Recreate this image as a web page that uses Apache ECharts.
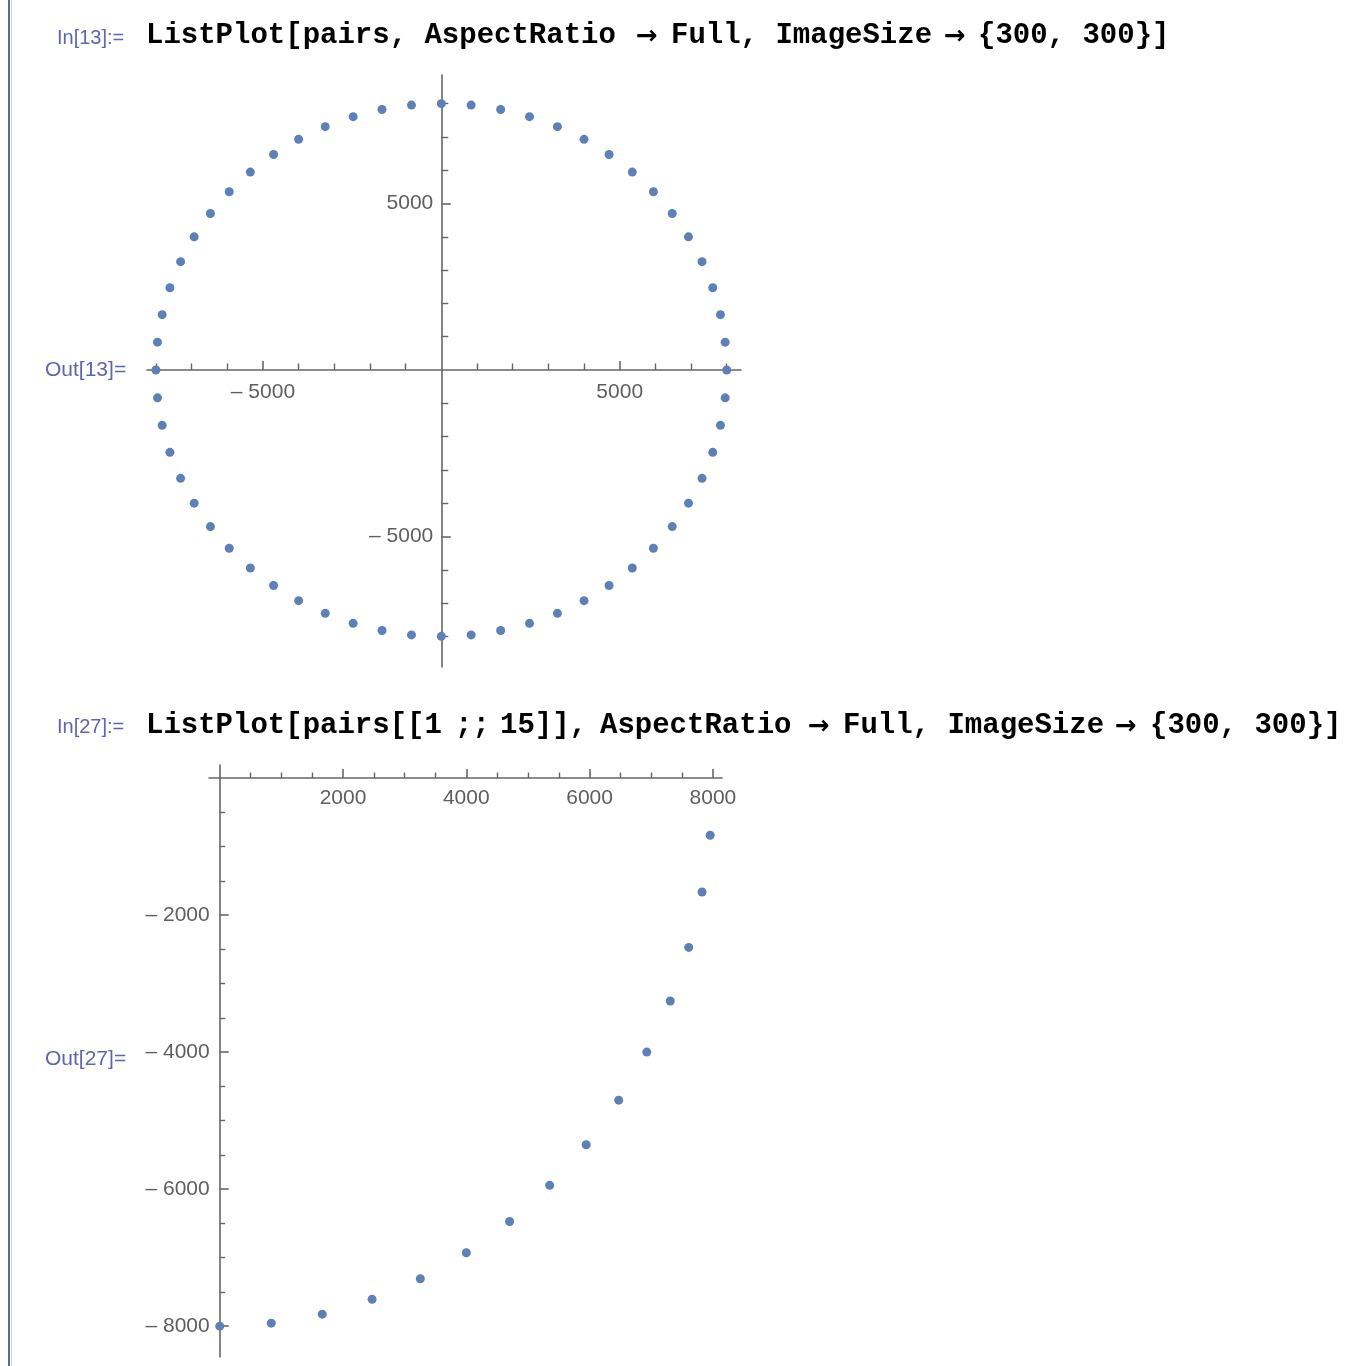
<!DOCTYPE html>
<html><head><meta charset="utf-8">
<script src="https://cdn.jsdelivr.net/npm/echarts@6/dist/echarts.min.js"></script>
<style>html,body{margin:0;padding:0;background:#fff;} #c{width:1345px;height:1366px;}</style>
</head><body><div id="c"></div>
<script>
// ---- data ----
const circleX = [7956,7825,7608,7308,6928,6472,5945,5353,4702,4000,3254,2472,1663,836,0,
  -836,-1663,-2472,-3254,-4000,-4702,-5353,-5945,-6472,-6928,-7308,-7608,-7825,-7956,-8000,
  -7956,-7825,-7608,-7308,-6928,-6472,-5945,-5353,-4702,-4000,-3254,-2472,-1663,-836,0,
  836,1663,2472,3254,4000,4702,5353,5945,6472,6928,7308,7608,7825,7956,8000];
const circleY = [-836,-1663,-2472,-3254,-4000,-4702,-5353,-5945,-6472,-6928,-7308,-7608,-7825,-7956,-8000,
  -7956,-7825,-7608,-7308,-6928,-6472,-5945,-5353,-4702,-4000,-3254,-2472,-1663,-836,0,
  836,1663,2472,3254,4000,4702,5353,5945,6472,6928,7308,7608,7825,7956,8000,
  7956,7825,7608,7308,6928,6472,5945,5353,4702,4000,3254,2472,1663,836,0];
const arcX = [7956,7825,7608,7308,6928,6472,5945,5353,4702,4000,3254,2472,1663,836,0];
const arcY = [-836,-1663,-2472,-3254,-4000,-4702,-5353,-5945,-6472,-6928,-7308,-7608,-7825,-7956,-8000];

const topMajor = [-5000, 5000];
const topMinor = [-8000,-7000,-6000,-4000,-3000,-2000,-1000,1000,2000,3000,4000,6000,7000,8000];
const botXMajor = [2000, 4000, 6000, 8000];
const botXMinor = [500,1000,1500,2500,3000,3500,4500,5000,5500,6500,7000,7500];
const botYMajor = [-2000, -4000, -6000, -8000];
const botYMinor = [-500,-1000,-1500,-2500,-3000,-3500,-4500,-5000,-5500,-6500,-7000,-7500];

const cellLabels = ['In[13]:=', 'Out[13]=', 'In[27]:=', 'Out[27]='];

// ---- styles ----
const AX = '#666666';
const LBL = {color: '#5f5f5f', fontSize: 21, fontFamily: 'Liberation Sans'};
const fmt = v => v < 0 ? '\u2013 ' + (-v) : String(v);
const CELL = '#5f66ad';
const CODE = 'bold 29px "Liberation Mono"';
const ARROW = 'bold 26px "DejaVu Sans"';

// axes crossing at zero: placed with an offset from the grid edge
function axis(dim, grid, min, max, major, minor, offset, margin, majLen, minLen) {
  const pos = dim === 'x' ? 'bottom' : 'left';
  const main = {
    type: 'value', gridIndex: grid, min, max, position: pos, offset,
    axisLine: {show: true, onZero: false, lineStyle: {color: AX, width: 1.6}},
    axisTick: {show: true, inside: true, length: majLen, customValues: major, lineStyle: {color: AX, width: 1.6}},
    axisLabel: Object.assign({show: true, margin, customValues: major, formatter: fmt,
      padding: dim === 'y' ? [3, 0, 0, 0] : 0}, LBL),
    splitLine: {show: false}
  };
  const sub = {
    type: 'value', gridIndex: grid, min, max, position: pos, offset,
    axisLine: {show: false, onZero: false},
    axisTick: {show: true, inside: true, length: minLen, customValues: minor, lineStyle: {color: AX, width: 1.4}},
    axisLabel: {show: false},
    splitLine: {show: false}
  };
  return [main, sub];
}

const xAxes = [].concat(
  axis('x', 0, -8250, 8400, topMajor, topMinor, -297, 12, 9, 6.5),
  axis('x', 1, -174, 8148, botXMajor, botXMinor, -579, 10, 9, 5.5)
);
const yAxes = [].concat(
  axis('y', 0, -8920, 8860, topMajor, topMinor, -294.3, 8, 9.5, 7),
  axis('y', 1, -8450, 190, botYMajor, botYMinor, -10.7, 10, 9, 5.5)
);

function txt(s, x, y, font, fill) {
  return {type: 'text', x, y, silent: true,
    style: {text: s, font, fill, verticalAlign: 'middle', align: 'left'}};
}

const chart = echarts.init(document.getElementById('c'), null, {renderer: 'canvas'});
chart.setOption({
  animation: false,
  backgroundColor: '#fff',
  grid: [
    {left: 147, top: 75, width: 594, height: 592, containLabel: false, outerBoundsMode: 'none'},
    {left: 209, top: 765, width: 513, height: 592, containLabel: false, outerBoundsMode: 'none'}
  ],
  xAxis: xAxes,
  yAxis: yAxes,
  series: [
    {type: 'scatter', xAxisIndex: 0, yAxisIndex: 0, symbolSize: 9, itemStyle: {color: '#5E81B5', opacity: 1},
     data: circleX.map((x, i) => [x, circleY[i]]), clip: false},
    {type: 'scatter', xAxisIndex: 2, yAxisIndex: 2, symbolSize: 9, itemStyle: {color: '#5E81B5', opacity: 1},
     data: arcX.map((x, i) => [x, arcY[i]]), clip: false}
  ],
  graphic: [
    {type: 'rect', shape: {x: 8, y: 0, width: 2, height: 1366}, style: {fill: '#557080'}, silent: true},
    {type: 'rect', shape: {x: 11, y: 0, width: 1, height: 1366}, style: {fill: '#d0d0d0'}, silent: true},
    txt(cellLabels[0], 57, 38, '20px "Liberation Sans"', CELL),
    txt(cellLabels[1], 45, 370, '21px "Liberation Sans"', CELL),
    txt(cellLabels[2], 57, 727, '20px "Liberation Sans"', CELL),
    txt(cellLabels[3], 45, 1059, '21px "Liberation Sans"', CELL),
    txt('ListPlot[pairs, AspectRatio', 146, 36, CODE, '#000'),
    txt('\u2192', 636, 37, ARROW, '#000'),
    txt('Full, ImageSize', 671, 36, CODE, '#000'),
    txt('\u2192', 944, 37, ARROW, '#000'),
    txt('{300, 300}]', 978, 36, CODE, '#000'),
    txt('ListPlot[pairs[[1', 146, 726, CODE, '#000'),
    txt(';;', 455, 726, CODE, '#000'),
    txt('15]],', 500, 726, CODE, '#000'),
    txt('AspectRatio', 600, 726, CODE, '#000'),
    txt('\u2192', 808, 727, ARROW, '#000'),
    txt('Full, ImageSize', 843, 726, CODE, '#000'),
    txt('\u2192', 1115, 727, ARROW, '#000'),
    txt('{300, 300}]', 1150, 726, CODE, '#000')
  ]
});
</script>
</body></html>
